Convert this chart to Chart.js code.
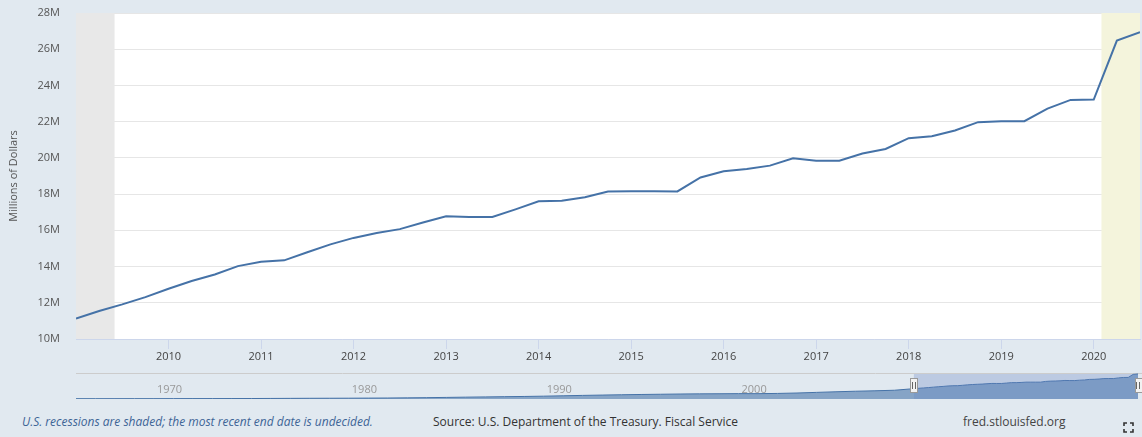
<!DOCTYPE html>
<html>
<head>
<meta charset="utf-8">
<script src="https://cdn.jsdelivr.net/npm/chart.js@4.4.0/dist/chart.umd.min.js"></script>
<style>
html,body{margin:0;padding:0;background:#e1e9f0;width:1142px;height:437px;overflow:hidden;font-family:"Open Sans",sans-serif;}
#main{position:absolute;left:0;top:0;}
#nav{position:absolute;left:0;top:368px;}
.ft{position:absolute;font-size:12px;line-height:16px;white-space:nowrap;}
</style>
</head>
<body>
<canvas id="main" width="1142" height="368"></canvas>
<canvas id="nav" width="1142" height="36"></canvas>
<div class="ft" style="left:22px;top:414px;color:#3d6496;font-style:italic;">U.S. recessions are shaded; the most recent end date is undecided.</div>
<div class="ft" style="left:433px;top:414px;color:#333;">Source: U.S. Department of the Treasury. Fiscal Service</div>
<div class="ft" style="left:963px;top:414px;color:#444;">fred.stlouisfed.org</div>
<svg style="position:absolute;left:1123px;top:422px" width="11" height="11" viewBox="0 0 11 11">
  <path d="M1 4V1H4 M7 1H10V4 M10 7V10H7 M4 10H1V7" fill="none" stroke="#333" stroke-width="1.6"/>
</svg>
<script>
// ---- data ----
const quarterDates = ['2009-01','2009-04','2009-07','2009-10','2010-01','2010-04','2010-07','2010-10',
  '2011-01','2011-04','2011-07','2011-10','2012-01','2012-04','2012-07','2012-10',
  '2013-01','2013-04','2013-07','2013-10','2014-01','2014-04','2014-07','2014-10',
  '2015-01','2015-04','2015-07','2015-10','2016-01','2016-04','2016-07','2016-10',
  '2017-01','2017-04','2017-07','2017-10','2018-01','2018-04','2018-07','2018-10',
  '2019-01','2019-04','2019-07','2019-10','2020-01','2020-04','2020-07'];
const debtMillions = [11126941,11545275,11909829,12311350,12773123,13201790,13561623,14025215,
  14270114,14343088,14790340,15222940,15582079,15855516,16066241,16432730,
  16771379,16738184,16738184,17158234,17601227,17632606,17824071,18141444,
  18152056,18152079,18150618,18922179,19264939,19381591,19573445,19976827,
  19846420,19844554,20244900,20492874,21089643,21195070,21516058,21974096,
  22027880,22023283,22719402,23201380,23223813,26477241,26945391];
const navYears = [1966,1967,1968,1969,1970,1971,1972,1973,1974,1975,1976,1977,1978,1979,1980,
  1981,1982,1983,1984,1985,1986,1987,1988,1989,1990,1991,1992,1993,1994,1995,1996,1997,1998,
  1999,2000,2001,2002,2003,2004,2005,2006,2007,2008];
const navDebtMillions = [320999,329000,344000,355000,369000,389000,425000,452000,474000,509000,
  604000,681000,760000,817000,863000,964000,1071000,1244000,1463000,1710000,1986000,2246000,
  2493000,2739000,3052000,3465000,3881000,4230000,4576000,4865000,5118000,5381000,5543000,
  5651000,5774000,5738000,6006000,6460000,7132000,7776000,8371000,8849000,9438000];
const xTickYears = [2010,2011,2012,2013,2014,2015,2016,2017,2018,2019,2020];
const yTicks = [10e6,12e6,14e6,16e6,18e6,20e6,22e6,24e6,26e6,28e6];
const navTickYears = [1970,1980,1990,2000];
const recessionStart = ['2007-12','2020-02'];
const recessionEnd = ['2009-06','2020-07'];
const recessionColors = ['#e8e8e8','#f4f4dc'];
const yTitle = 'Millions of Dollars';

// ---- helpers ----
function toYear(s){const [y,m]=s.split('-').map(Number);return y+(m-1)/12;}
const FONT = "'Open Sans', sans-serif";
Chart.defaults.font.family = FONT;

const mainPoints = quarterDates.map((d,i)=>({x:toYear(d), y:debtMillions[i]}));
const xMin = toYear(quarterDates[0]);
const xMax = toYear(quarterDates[quarterDates.length-1]);

const bgPlugin = {
  id:'bg',
  beforeDraw(chart){
    const {ctx, chartArea:a} = chart;
    ctx.save(); ctx.fillStyle='#ffffff';
    ctx.fillRect(a.left,a.top,a.right-a.left,a.bottom-a.top); ctx.restore();
  },
  beforeDatasetsDraw(chart){
    const {ctx, chartArea:a, scales:{x}} = chart;
    ctx.save();
    recessionStart.forEach((s,i)=>{
      const x0 = Math.max(x.getPixelForValue(toYear(s)), a.left);
      const x1 = Math.min(x.getPixelForValue(toYear(recessionEnd[i])), a.right);
      if (x1 > x0){ ctx.fillStyle = recessionColors[i]; ctx.fillRect(x0,a.top,x1-x0,a.bottom-a.top); }
    });
    ctx.restore();
  }
};

new Chart(document.getElementById('main'), {
  type:'line',
  data:{datasets:[{data:mainPoints, borderColor:'#4572a7', borderWidth:2, pointRadius:0, tension:0, fill:false}]},
  options:{
    responsive:false, animation:false, events:[],
    layout:{padding:{left:0,right:2,top:13,bottom:0}},
    plugins:{legend:{display:false}, tooltip:{enabled:false}},
    scales:{
      x:{type:'linear', min:xMin, max:xMax,
        afterBuildTicks(s){ s.ticks = xTickYears.map(v=>({value:v})); },
        afterFit(s){ s.height = 29; s.paddingLeft = 0; s.paddingRight = 0; },
        grid:{drawOnChartArea:false, drawTicks:true, tickLength:10, tickColor:'#ccd6eb'},
        border:{display:true, color:'#ccd6eb'},
        ticks:{color:'#444', font:{size:11}, padding:1, maxRotation:0, callback:v=>String(v)}
      },
      y:{type:'linear', min:yTicks[0], max:yTicks[yTicks.length-1],
        afterBuildTicks(s){ s.ticks = yTicks.map(v=>({value:v})); },
        afterFit(s){ s.width = 76; s.paddingTop = 0; s.paddingBottom = 0; },
        grid:{color:'#e6e6e6', drawTicks:false},
        border:{display:false},
        ticks:{color:'#555', font:{size:11}, padding:16, callback:v=>(v/1e6)+'M'},
        title:{display:true, text:yTitle, color:'#555', font:{size:11}, padding:{top:7,bottom:0}}
      }
    }
  },
  plugins:[bgPlugin]
});

// ---- navigator ----
const navPoints = navYears.map((y,i)=>({x:y, y:navDebtMillions[i]})).concat(mainPoints);
const navPlugin = {
  id:'navdeco',
  beforeDatasetsDraw(chart){
    const {ctx, chartArea:a, scales:{x}} = chart;
    ctx.save();
    ctx.strokeStyle='#cccccc'; ctx.lineWidth=1;
    ctx.beginPath(); ctx.moveTo(a.left,a.top+0.5); ctx.lineTo(chart.width,a.top+0.5); ctx.stroke();
    ctx.fillStyle='#999'; ctx.font="11px "+FONT; ctx.textAlign='left'; ctx.textBaseline='middle';
    navTickYears.forEach(y=>{ ctx.fillText(String(y), x.getPixelForValue(y)+3, a.top+17); });
    ctx.restore();
  },
  afterDatasetsDraw(chart){
    const {ctx, chartArea:a, scales:{x}} = chart;
    const m0 = x.getPixelForValue(xMin), m1 = x.getPixelForValue(xMax);
    ctx.save();
    ctx.fillStyle='rgba(102,133,194,0.3)';
    ctx.fillRect(m0,a.top+1,m1-m0,a.bottom-a.top-1);
    [m0,m1].forEach(hx=>{
      const hw=7, hh=14, hy=a.top+5;
      ctx.fillStyle='#f2f2f2'; ctx.strokeStyle='#999'; ctx.lineWidth=1;
      ctx.fillRect(Math.round(hx-hw/2)+0.5,hy+0.5,hw,hh);
      ctx.strokeRect(Math.round(hx-hw/2)+0.5,hy+0.5,hw,hh);
      ctx.strokeStyle='#666';
      ctx.beginPath();
      ctx.moveTo(Math.round(hx)-1.5,hy+4); ctx.lineTo(Math.round(hx)-1.5,hy+hh-3);
      ctx.moveTo(Math.round(hx)+1.5,hy+4); ctx.lineTo(Math.round(hx)+1.5,hy+hh-3);
      ctx.stroke();
    });
    ctx.restore();
  }
};
new Chart(document.getElementById('nav'), {
  type:'line',
  data:{datasets:[{data:navPoints, borderColor:'#4572a7', borderWidth:1, pointRadius:0, tension:0,
    fill:'origin', backgroundColor:'rgba(69,114,167,0.58)'}]},
  options:{
    responsive:false, animation:false, events:[],
    layout:{padding:{left:76,right:4,top:5,bottom:5}},
    plugins:{legend:{display:false}, tooltip:{enabled:false}},
    scales:{
      x:{type:'linear', display:false, min:navYears[0], max:xMax},
      y:{type:'linear', display:false, min:0, max:28e6}
    }
  },
  plugins:[navPlugin]
});
</script>
</body>
</html>
